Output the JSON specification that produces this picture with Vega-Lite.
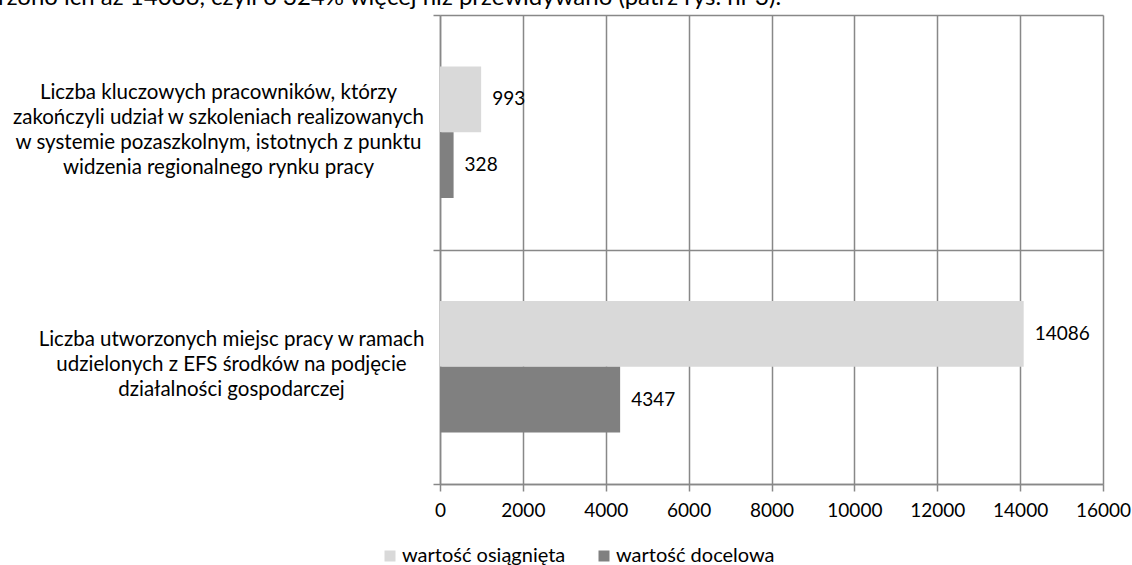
{
  "$schema": "https://vega.github.io/schema/vega-lite/v6.json",
  "width": 663,
  "height": 469,
  "autosize": "none",
  "padding": {"left": 440, "top": 15, "right": 29, "bottom": 81},
  "background": "white",
  "config": {"view": {"stroke": null}, "font": "Lato"},
  "title": {
    "text": "rzono ich aż 14086, czyli o 324% więcej niż przewidywano (patrz rys. nr 3).",
    "anchor": "start",
    "frame": "group",
    "dx": -442,
    "offset": -24,
    "baseline": "alphabetic",
    "font": "Lato",
    "fontSize": 24,
    "fontWeight": "normal",
    "color": "black"
  },
  "data": {
    "values": [
      {"kategoria": "Liczba kluczowych pracowników, którzy\nzakończyli udział w szkoleniach realizowanych\nw systemie pozaszkolnym, istotnych z punktu\nwidzenia regionalnego rynku pracy", "seria": "wartość osiągnięta", "wartosc": 993},
      {"kategoria": "Liczba kluczowych pracowników, którzy\nzakończyli udział w szkoleniach realizowanych\nw systemie pozaszkolnym, istotnych z punktu\nwidzenia regionalnego rynku pracy", "seria": "wartość docelowa", "wartosc": 328},
      {"kategoria": "Liczba utworzonych miejsc pracy w ramach\nudzielonych z EFS środków na podjęcie\ndziałalności gospodarczej", "seria": "wartość osiągnięta", "wartosc": 14086},
      {"kategoria": "Liczba utworzonych miejsc pracy w ramach\nudzielonych z EFS środków na podjęcie\ndziałalności gospodarczej", "seria": "wartość docelowa", "wartosc": 4347}
    ]
  },
  "encoding": {
    "y": {
      "field": "kategoria",
      "type": "nominal",
      "sort": null,
      "scale": {"paddingInner": 0, "paddingOuter": 0},
      "axis": {
        "title": null,
        "tickBand": "extent",
        "grid": true,
        "gridColor": "#888888",
        "gridWidth": 1.5,
        "domainColor": "#888888",
        "domainWidth": 1.5,
        "tickColor": "#888888",
        "tickWidth": 1.5,
        "tickSize": 7,
        "labelAlign": "center",
        "labelBaseline": "middle",
        "labelPadding": {"condition": {"test": "indexof(datum.label, 'Liczba utw') == 0", "value": 202}, "value": 215},
        "labelOffset": {"condition": {"test": "indexof(datum.label, 'Liczba utw') == 0", "value": -27}, "value": -40},
        "labelFont": "Lato",
        "labelFontSize": 20.5,
        "labelLineHeight": 25,
        "labelColor": "black",
        "labelLimit": 0,
        "labelExpr": "split(datum.label, '\\n')"
      }
    },
    "yOffset": {
      "field": "seria",
      "type": "nominal",
      "sort": ["wartość osiągnięta", "wartość docelowa"],
      "scale": {"paddingInner": 0, "paddingOuter": 0.78}
    },
    "x": {
      "field": "wartosc",
      "type": "quantitative",
      "scale": {"domain": [0, 16000], "nice": false},
      "axis": {
        "title": null,
        "values": [0, 2000, 4000, 6000, 8000, 10000, 12000, 14000, 16000],
        "format": "d",
        "grid": true,
        "gridColor": "#888888",
        "gridWidth": 1.5,
        "domainColor": "#888888",
        "domainWidth": 1.5,
        "tickColor": "#888888",
        "tickWidth": 1.5,
        "tickSize": 7,
        "labelPadding": 10,
        "labelFont": "Lato",
        "labelFontSize": 19,
        "labelColor": "black",
        "labelFlush": false
      }
    }
  },
  "layer": [
    {
      "mark": {"type": "bar"},
      "encoding": {
        "color": {
          "field": "seria",
          "type": "nominal",
          "sort": ["wartość osiągnięta", "wartość docelowa"],
          "scale": {"domain": ["wartość osiągnięta", "wartość docelowa"], "range": ["#d9d9d9", "#808080"]},
          "legend": {
            "title": null,
            "orient": "none",
            "legendX": -60,
            "legendY": 531,
            "direction": "horizontal",
            "symbolType": "square",
            "symbolSize": 121,
            "symbolStrokeWidth": 0,
            "labelFont": "Lato",
            "labelFontSize": 20,
            "labelColor": "black",
            "labelOffset": 2,
            "columnPadding": 28,
            "labelLimit": 0
          }
        }
      }
    },
    {
      "mark": {"type": "text", "align": "left", "baseline": "middle", "dx": 11, "font": "Lato", "fontSize": 19, "color": "black"},
      "encoding": {"text": {"field": "wartosc", "type": "quantitative", "format": "d"}}
    }
  ]
}
